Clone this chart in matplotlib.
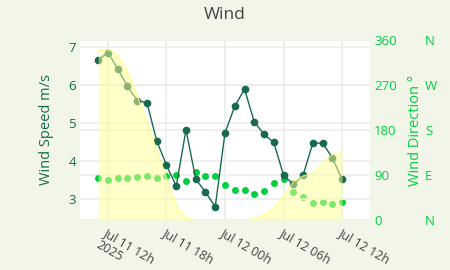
import numpy as np
import pandas as pd
import matplotlib
matplotlib.use("Agg")
from matplotlib import pyplot as plt
from matplotlib.ticker import FixedLocator

plt.rcParams['font.family'] = ['Open Sans', 'DejaVu Sans']

times = pd.date_range('2025-07-11 11:00', '2025-07-12 12:00', freq='h')
wind_speed = [6.66, 6.85, 6.42, 5.96, 5.59, 5.53, 4.53, 3.89, 3.34, 4.82, 3.53, 3.18, 2.80,
              4.74, 5.44, 5.89, 5.03, 4.70, 4.49, 3.63, 3.39, 3.62, 4.47, 4.47, 4.09, 3.52]
wind_dir = [84, 81, 85, 85, 87, 88, 85, 88, 91, 79, 97, 89, 89,
            71, 61, 60, 53, 59, 75, 83, 57, 47, 35, 37, 33, 37]
sun = [94.4, 94.8, 91.7, 82.4, 69.4, 53.9, 38.9, 23.3, 8.3, 1.1, 0, 0, 0,
       0, 0, 0, 0.6, 2.8, 6.7, 12.9, 21.3, 24.4, 25.9, 31.5, 36.1, 37.4]

tick_times = pd.date_range('2025-07-11 12:00', '2025-07-12 12:00', freq='6h')
tick_labels = ['Jul 11 12h\n2025', 'Jul 11 18h', 'Jul 12 00h', 'Jul 12 06h', 'Jul 12 12h']
compass = ['N', 'E', 'S', 'W', 'N']
dir_ticks = [0, 90, 180, 270, 360]

bg = '#f1f6e9'
speed_col = '#186a4c'
dir_col = '#00d040'
grid_col = '#ececec'

fig = plt.figure(figsize=(4.5, 2.7), dpi=100, facecolor=bg)
ax2 = fig.add_axes([80/450, 1-220/270, 290/450, 180/270])
ax = ax2.twinx()
ax3 = ax2.twinx()
ax4 = ax2.twinx()
ax.set_zorder(ax2.get_zorder() + 1)
ax4.set_zorder(ax.get_zorder() + 1)
for a in (ax, ax3, ax4):
    a.patch.set_visible(False)
ax2.set_facecolor('white')

# direction (right axis)
ax2.plot(times, wind_dir, 'o', color=dir_col, ms=5, mec='none')
ax2.set_ylim(0, 360)
ax2.yaxis.tick_right()
ax2.yaxis.set_label_position('right')
ax2.set_yticks(dir_ticks)
ax2.tick_params(axis='y', colors=dir_col, length=0, labelsize=9.5, pad=3)
ax2.set_ylabel('Wind Direction °', color=dir_col, fontsize=10.5, labelpad=8)
ax2.grid(True, axis='y', color=grid_col, lw=1.2)

# speed (left axis)
ax.plot(times, wind_speed, '-o', color=speed_col, ms=4.5, lw=1.0)
ax.set_ylim(2.45, 7.18)
ax.yaxis.tick_left()
ax.yaxis.set_label_position('left')
ax.set_yticks([3, 4, 5, 6, 7])
ax.tick_params(axis='y', colors=speed_col, length=0, labelsize=9.5, pad=3)
ax.set_ylabel('Wind Speed m/s', color=speed_col, fontsize=10.5, labelpad=10)
ax.grid(True, axis='y', color=grid_col, lw=1.2)

ax2.set_xlim(pd.Timestamp('2025-07-11 09:08'), pd.Timestamp('2025-07-12 14:52'))
ax2.xaxis.set_major_locator(FixedLocator(matplotlib.dates.date2num(tick_times)))
ax2.set_xticklabels(tick_labels, rotation=-30, ha='left', va='top',
                    rotation_mode='anchor', fontsize=9, color='#444444')
ax2.tick_params(axis='x', length=0, pad=4)
ax2.grid(True, axis='x', color=grid_col, lw=1.2)

# compass labels
ax3.set_ylim(0, 360)
ax3.spines['right'].set_position(('axes', 1 + 55/290))
ax3.set_yticks(dir_ticks)
ax3.set_yticklabels(compass)
ax3.tick_params(axis='y', colors=dir_col, length=0, labelsize=9.5, pad=0)

# daylight fill on top
ax4.set_ylim(0, 100)
ax4.fill_between(times, sun, 0, color='#ffff96', alpha=0.5, lw=0)
ax4.plot(times, sun, color='#ffff80', lw=1.0, alpha=0.8)
ax4.set_yticks([])

for a in (ax, ax2, ax3, ax4):
    for s in a.spines.values():
        s.set_visible(False)

fig.suptitle('Wind', x=0.5, y=1-15/270, va='center', fontsize=12.5, color='#444444')
fig.savefig('out.png', dpi=100, facecolor=bg)
